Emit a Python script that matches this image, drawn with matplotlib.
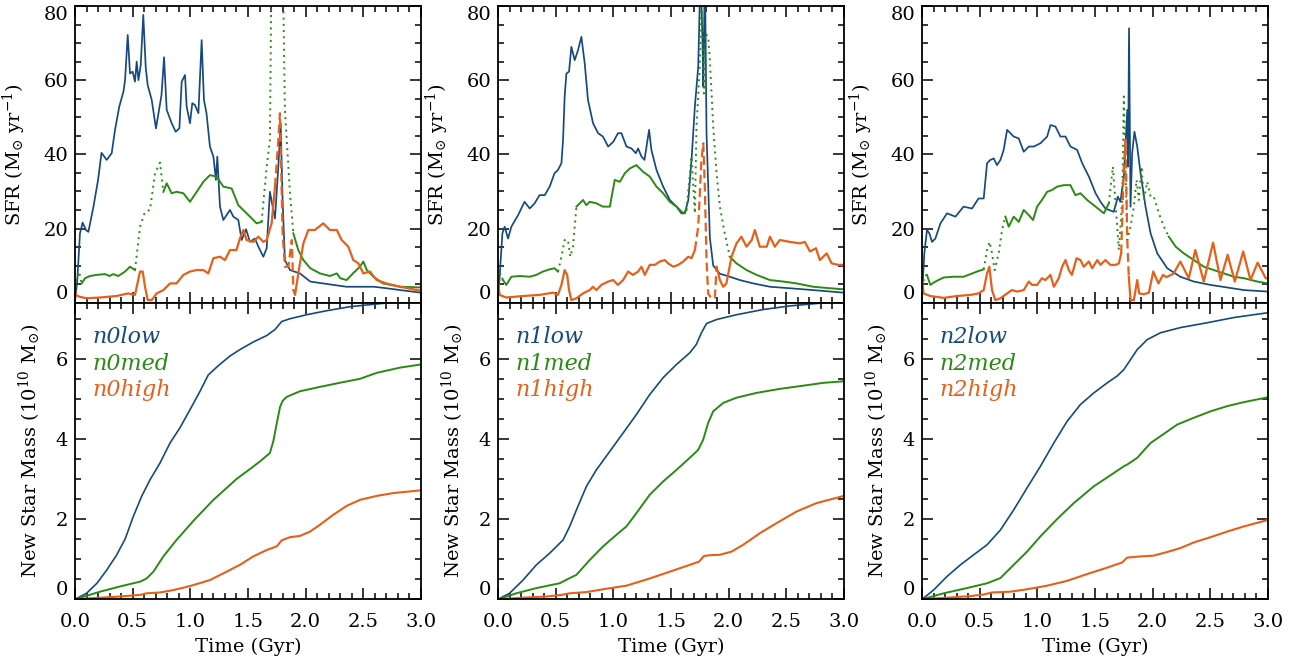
import numpy as np
import matplotlib
matplotlib.use('Agg')
import matplotlib.pyplot as plt
from matplotlib.ticker import MultipleLocator

plt.rcParams['font.family'] = ['DejaVu Serif']
plt.rcParams['mathtext.fontset'] = 'dejavuserif'

# ---- SFR (Msun/yr) vs time (Gyr) ----
n0low_t = [0, 0.02, 0.043, 0.066, 0.095, 0.116, 0.16, 0.2, 0.23, 0.275,
           0.318, 0.347, 0.384, 0.42, 0.434, 0.457, 0.477, 0.5, 0.52, 0.535,
           0.55, 0.57, 0.592, 0.613, 0.63, 0.665, 0.702, 0.731, 0.75, 0.772,
           0.795, 0.838, 0.873, 0.905, 0.925, 0.954, 0.968, 0.997, 1.017, 1.04,
           1.07, 1.084, 1.098, 1.118, 1.14, 1.17, 1.2, 1.222, 1.234, 1.257,
           1.286, 1.344, 1.373, 1.416, 1.445, 1.483, 1.517, 1.56, 1.59, 1.633,
           1.662, 1.69, 1.714, 1.734, 1.763, 1.783, 1.8, 1.82, 1.864, 1.95,
           2.04, 2.15, 2.24, 2.355, 2.47, 2.59, 2.7, 2.82, 3.0]
n0low_sfr = [0.3, 6.1, 18.7, 21.6, 19.6, 19.1, 25.9, 33.1, 40.4, 38.5,
             40.3, 46.6, 52.9, 56.9, 60.0, 72.2, 61.8, 62.3, 59.6, 65.0,
             60.0, 64.1, 77.6, 63.6, 58.7, 54.7, 47.0, 52.4, 56.0, 66.2,
             52.0, 48.4, 46.1, 47.0, 59.6, 61.4, 52.9, 48.4, 53.8, 53.3,
             51.1, 60.9, 70.8, 54.7, 51.1, 42.1, 39.4, 33.1, 39.4, 25.9,
             22.3, 25.0, 23.2, 22.3, 16.9, 19.8, 16.4, 17.3, 15.1, 12.4,
             14.7, 29.9, 25.9, 22.7, 36.7, 48.4, 27.7, 11.5, 8.8, 7.9,
             5.7, 5.2, 4.8, 4.3, 4.3, 4.3, 3.9, 3.4, 2.7]

n0med_t = [0, 0.014, 0.035, 0.058, 0.087, 0.13, 0.188, 0.26, 0.3, 0.33,
           0.376, 0.434, 0.477, 0.52, 0.564, 0.607, 0.65, 0.694, 0.737, 0.766,
           0.795, 0.838, 0.88, 0.94, 0.997, 1.055, 1.113, 1.17, 1.228, 1.286,
           1.358, 1.416, 1.488, 1.575, 1.618, 1.662, 1.69, 1.705, 1.8, 1.82,
           1.864, 1.893, 1.936, 1.98, 2.04, 2.124, 2.21, 2.27, 2.3, 2.355,
           2.41, 2.47, 2.5, 2.53, 2.587, 2.67, 2.82, 3.0]
n0med_sfr = [2.5, 7.0, 8.4, 5.2, 6.6, 7.2, 7.5, 7.7, 7.2, 7.7,
             7.2, 8.4, 9.7, 8.8, 20.5, 24.5, 25.0, 34.9, 37.8, 29.9,
             32.2, 29.5, 29.9, 29.5, 27.2, 29.9, 32.6, 34.4, 34.0, 31.3,
             30.8, 26.3, 24.1, 21.4, 21.8, 36.7, 43.9, 95, 95, 52.0,
             29.5, 18.7, 14.2, 11.5, 9.3, 7.9, 7.2, 7.9, 6.6, 6.1,
             7.9, 9.7, 11.1, 8.8, 7.0, 5.2, 4.3, 4.1]

n0high_t = [0, 0.01, 0.04, 0.1, 0.217, 0.36, 0.46, 0.52, 0.564, 0.587,
            0.607, 0.63, 0.665, 0.708, 0.766, 0.824, 0.88, 0.94, 0.997, 1.055,
            1.113, 1.156, 1.2, 1.257, 1.3, 1.344, 1.4, 1.43, 1.46, 1.488,
            1.546, 1.59, 1.633, 1.662, 1.705, 1.734, 1.763, 1.777, 1.8, 1.82,
            1.85, 1.88, 1.893, 1.908, 1.936, 1.98, 2.023, 2.08, 2.153, 2.21,
            2.27, 2.312, 2.37, 2.413, 2.457, 2.5, 2.558, 2.615, 2.7, 2.818, 3.0]
n0high_sfr = [3.5, 2.0, 1.6, 1.2, 1.4, 1.8, 2.5, 2.1, 8.4, 8.4,
              4.3, 0.7, 0.7, 2.5, 3.4, 5.2, 5.2, 7.5, 8.4, 8.8,
              8.8, 7.9, 12.0, 12.4, 11.5, 14.2, 14.2, 17.3, 19.6, 16.9,
              16.4, 17.8, 16.4, 16.9, 21.4, 31.3, 43.9, 51.1, 18.7, 9.7,
              9.7, 16.9, 3.4, 2.1, 7.9, 16.0, 19.6, 19.6, 21.4, 19.6,
              19.6, 16.9, 15.1, 11.5, 10.6, 7.9, 8.4, 6.1, 5.2, 4.3, 3.2]

n1low_t = [0, 0.014, 0.038, 0.058, 0.087, 0.116, 0.174, 0.23, 0.275, 0.318,
           0.36, 0.405, 0.448, 0.49, 0.52, 0.55, 0.564, 0.578, 0.593, 0.616,
           0.636, 0.665, 0.694, 0.723, 0.752, 0.78, 0.824, 0.868, 0.91, 0.955,
           1.0, 1.04, 1.07, 1.114, 1.157, 1.195, 1.215, 1.244, 1.27, 1.31,
           1.33, 1.374, 1.432, 1.49, 1.548, 1.59, 1.62, 1.65, 1.678, 1.707,
           1.736, 1.756, 1.773, 1.78, 1.794, 1.808, 1.837, 1.866, 1.924, 2.01,
           2.097, 2.213, 2.358, 2.53, 2.733, 3.0]
n1low_sfr = [1.2, 7.0, 18.7, 20.5, 17.3, 20.5, 23.6, 27.2, 25.4, 26.8,
             29.0, 29.0, 31.3, 34.9, 35.8, 37.6, 43.9, 55.6, 61.8, 62.3,
             69.0, 65.4, 68.1, 71.7, 64.5, 54.7, 48.4, 45.7, 44.8, 42.1,
             43.4, 45.7, 45.7, 42.1, 41.6, 40.3, 41.6, 39.4, 38.5, 46.6,
             41.2, 35.8, 31.3, 27.7, 25.9, 24.1, 24.1, 27.7, 38.5, 52.9,
             63.6, 90, 70.8, 58.2, 90, 45.7, 17.5, 10.0, 7.8, 7.0,
             6.1, 5.2, 4.3, 3.9, 3.4, 2.7]

n1med_t = [0, 0.02, 0.043, 0.072, 0.116, 0.188, 0.275, 0.333, 0.39, 0.448,
           0.49, 0.52, 0.55, 0.578, 0.607, 0.627, 0.65, 0.68, 0.737, 0.766,
           0.795, 0.853, 0.91, 0.97, 1.012, 1.056, 1.1, 1.143, 1.2, 1.258,
           1.316, 1.374, 1.432, 1.49, 1.548, 1.606, 1.634, 1.678, 1.707, 1.721,
           1.75, 1.764, 1.785, 1.8, 1.822, 1.837, 1.866, 1.895, 1.924, 1.967,
           2.01, 2.068, 2.155, 2.242, 2.358, 2.473, 2.589, 2.733, 2.878, 3.0]
n1med_sfr = [2.5, 7.9, 6.1, 4.8, 7.0, 7.2, 7.0, 7.5, 8.4, 9.0,
             9.3, 8.4, 12.4, 16.9, 16.9, 12.4, 15.1, 25.9, 27.7, 26.3,
             27.2, 26.8, 25.9, 25.9, 33.1, 32.6, 34.9, 36.2, 37.1, 35.3,
             34.0, 31.3, 29.5, 27.2, 25.9, 24.1, 25.0, 39.4, 24.1, 47.5,
             63.6, 84.0, 56.4, 72.6, 71.7, 65.4, 47.5, 34.9, 25.9, 18.5,
             12.4, 10.6, 8.8, 7.5, 6.1, 5.7, 5.2, 4.3, 3.9, 3.6]

n1high_t = [0, 0.014, 0.072, 0.217, 0.36, 0.477, 0.52, 0.55, 0.578, 0.6,
            0.616, 0.636, 0.68, 0.737, 0.795, 0.824, 0.853, 0.897, 0.955, 1.0,
            1.04, 1.085, 1.128, 1.17, 1.215, 1.244, 1.273, 1.316, 1.36, 1.403,
            1.446, 1.475, 1.52, 1.563, 1.606, 1.65, 1.678, 1.707, 1.736, 1.764,
            1.78, 1.793, 1.808, 1.822, 1.85, 1.88, 1.895, 1.924, 1.953, 1.98,
            2.025, 2.068, 2.11, 2.155, 2.2, 2.227, 2.27, 2.33, 2.358, 2.4,
            2.444, 2.53, 2.618, 2.66, 2.705, 2.757, 2.79, 2.85, 2.893, 2.95, 3.0]
n1high_sfr = [5.7, 2.1, 1.4, 1.8, 2.1, 2.7, 2.1, 4.8, 8.8, 7.5,
              3.4, 0.7, 1.2, 2.5, 3.4, 4.3, 3.4, 4.8, 5.7, 6.1,
              4.8, 6.1, 8.4, 7.5, 8.4, 9.7, 7.5, 10.2, 10.2, 11.1,
              11.5, 10.6, 9.7, 10.2, 11.1, 12.4, 12.0, 14.2, 20.5, 38.5,
              43.0, 31.3, 11.5, 2.5, 1.2, 1.2, 9.7, 6.1, 4.3, 5.2,
              12.4, 16.0, 17.8, 15.1, 16.9, 19.6, 15.1, 15.1, 17.8, 15.1,
              16.9, 16.4, 16.0, 16.4, 13.8, 14.7, 11.5, 13.3, 10.6, 10.2, 10.2]

n2low_t = [0, 0.02, 0.043, 0.064, 0.087, 0.116, 0.16, 0.217, 0.29, 0.36,
           0.434, 0.49, 0.535, 0.564, 0.593, 0.622, 0.65, 0.68, 0.708, 0.738,
           0.767, 0.795, 0.839, 0.882, 0.926, 0.97, 1.027, 1.085, 1.114, 1.157,
           1.2, 1.244, 1.287, 1.345, 1.389, 1.447, 1.505, 1.548, 1.59, 1.663,
           1.698, 1.72, 1.75, 1.78, 1.787, 1.795, 1.808, 1.822, 1.842, 1.866,
           1.895, 1.938, 1.982, 2.04, 2.126, 2.24, 2.357, 2.5, 2.647, 2.792, 3.0]
n2low_sfr = [1.6, 13.3, 19.6, 18.7, 16.4, 17.3, 21.4, 24.1, 23.2, 25.9,
             25.4, 28.1, 28.1, 37.6, 38.5, 38.9, 37.1, 38.5, 41.2, 46.6,
             45.7, 44.8, 44.3, 40.7, 42.1, 42.1, 43.0, 44.8, 47.9, 47.5,
             44.8, 44.8, 42.1, 41.2, 37.6, 34.0, 29.5, 27.2, 25.4, 24.5,
             28.6, 27.2, 34.0, 52.0, 36.7, 74.0, 25.9, 40.3, 46.1, 42.1,
             34.9, 25.9, 18.7, 13.3, 9.3, 7.0, 5.7, 4.8, 4.1, 3.4, 3.0]

n2med_t = [0, 0.02, 0.043, 0.072, 0.116, 0.188, 0.275, 0.36, 0.42, 0.477,
           0.535, 0.564, 0.587, 0.607, 0.63, 0.665, 0.694, 0.723, 0.752, 0.795,
           0.839, 0.882, 0.926, 0.963, 0.998, 1.04, 1.085, 1.128, 1.172, 1.23,
           1.287, 1.33, 1.374, 1.432, 1.505, 1.577, 1.62, 1.655, 1.678, 1.707,
           1.736, 1.75, 1.765, 1.78, 1.808, 1.837, 1.86, 1.88, 1.904, 1.924,
           1.953, 1.982, 2.01, 2.054, 2.097, 2.14, 2.2, 2.27, 2.357, 2.444,
           2.53, 2.618, 2.705, 2.792, 2.908, 3.0]
n2med_sfr = [2.5, 7.2, 7.5, 4.8, 5.7, 6.8, 7.0, 7.0, 7.7, 8.4,
             9.0, 14.2, 16.4, 13.3, 8.8, 13.3, 19.6, 23.2, 20.5, 23.2,
             21.8, 25.0, 23.6, 22.3, 25.9, 27.7, 29.9, 30.4, 31.3, 31.7,
             31.7, 29.0, 29.5, 27.7, 25.9, 24.1, 26.8, 36.7, 26.8, 14.2,
             27.7, 55.6, 34.9, 16.9, 20.5, 25.9, 33.1, 27.7, 36.7, 27.7,
             32.6, 28.6, 28.6, 24.1, 20.5, 17.8, 15.1, 13.3, 11.5, 9.7,
             8.8, 7.9, 7.0, 6.6, 5.7, 5.2]

n2high_t = [0, 0.014, 0.072, 0.188, 0.304, 0.42, 0.49, 0.535, 0.564, 0.584,
            0.607, 0.636, 0.68, 0.738, 0.78, 0.824, 0.882, 0.926, 0.955, 0.998,
            1.04, 1.07, 1.114, 1.143, 1.186, 1.215, 1.244, 1.273, 1.3, 1.34,
            1.374, 1.403, 1.447, 1.476, 1.52, 1.548, 1.59, 1.634, 1.678, 1.707,
            1.727, 1.75, 1.765, 1.78, 1.793, 1.808, 1.837, 1.866, 1.883, 1.924,
            1.967, 2.005, 2.05, 2.09, 2.12, 2.18, 2.24, 2.313, 2.37, 2.443,
            2.524, 2.588, 2.65, 2.712, 2.785, 2.848, 2.91, 2.98, 3.0]
n2high_sfr = [5.7, 2.5, 1.8, 1.3, 1.8, 2.1, 2.5, 3.4, 7.9, 9.7,
              3.4, 0.7, 1.2, 2.5, 3.4, 3.0, 3.4, 5.7, 4.8, 4.8,
              6.6, 6.1, 7.5, 4.3, 6.6, 9.7, 11.5, 8.8, 7.5, 12.0,
              11.5, 9.7, 11.1, 9.3, 11.5, 10.2, 11.5, 10.2, 10.2, 10.6,
              13.3, 36.7, 43.9, 16.9, 7.0, 0.7, 0.7, 6.1, 2.5, 2.3,
              2.7, 8.4, 5.2, 7.5, 6.9, 7.8, 11.1, 6.6, 14.2, 5.7,
              16.2, 6.1, 12.9, 5.7, 13.8, 6.1, 10.8, 6.6, 6.6]

# ---- cumulative new star mass (1e10 Msun) ----
n0low_mt = [0, 0.1, 0.19, 0.275, 0.36, 0.434, 0.506, 0.578, 0.65, 0.737,
            0.824, 0.91, 0.997, 1.084, 1.156, 1.243, 1.344, 1.43, 1.546, 1.662,
            1.734, 1.792, 1.864, 2.009, 2.182, 2.384, 2.587, 2.73, 3.0]
n0low_mass = [0, 0.15, 0.4, 0.73, 1.1, 1.5, 2.07, 2.57, 2.98, 3.4,
              3.9, 4.28, 4.73, 5.19, 5.6, 5.83, 6.07, 6.23, 6.42, 6.58,
              6.73, 6.93, 7.0, 7.1, 7.2, 7.3, 7.36, 7.4, 7.5]
n0med_mt = [0, 0.217, 0.39, 0.564, 0.621, 0.68, 0.766, 0.88, 1.04, 1.2,
            1.4, 1.517, 1.604, 1.69, 1.72, 1.75, 1.778, 1.8, 1.835, 1.95,
            2.124, 2.327, 2.47, 2.616, 2.818, 3.0]
n0med_mass = [0, 0.19, 0.32, 0.44, 0.52, 0.69, 1.07, 1.48, 2.0, 2.48,
              3.0, 3.25, 3.44, 3.65, 3.95, 4.4, 4.8, 4.95, 5.05, 5.19,
              5.3, 5.42, 5.5, 5.65, 5.78, 5.86]
n0high_mt = [0, 0.217, 0.39, 0.564, 0.621, 0.737, 0.853, 0.997, 1.17, 1.315,
             1.43, 1.546, 1.662, 1.749, 1.792, 1.864, 1.95, 2.038, 2.124, 2.24,
             2.355, 2.47, 2.616, 2.76, 3.0]
n0high_mass = [0, 0.04, 0.07, 0.11, 0.15, 0.17, 0.23, 0.33, 0.48, 0.69,
               0.86, 1.07, 1.23, 1.32, 1.47, 1.55, 1.58, 1.69, 1.86, 2.11,
               2.33, 2.48, 2.58, 2.65, 2.72]

n1low_mt = [0, 0.1, 0.217, 0.333, 0.448, 0.564, 0.622, 0.68, 0.767, 0.853,
            0.969, 1.085, 1.2, 1.316, 1.432, 1.548, 1.663, 1.72, 1.764, 1.808,
            1.895, 2.068, 2.3, 2.531, 2.762, 3.0]
n1low_mass = [0, 0.15, 0.48, 0.86, 1.15, 1.48, 1.82, 2.23, 2.82, 3.23,
              3.69, 4.15, 4.61, 5.11, 5.53, 5.86, 6.15, 6.36, 6.65, 6.88,
              6.98, 7.1, 7.23, 7.32, 7.38, 7.44]
n1med_mt = [0, 0.159, 0.333, 0.535, 0.622, 0.68, 0.795, 0.911, 1.027, 1.114,
            1.2, 1.316, 1.432, 1.548, 1.663, 1.736, 1.779, 1.822, 1.866, 1.953,
            2.068, 2.242, 2.444, 2.647, 2.82, 3.0]
n1med_mass = [0, 0.15, 0.28, 0.4, 0.53, 0.61, 0.98, 1.32, 1.61, 1.82,
              2.15, 2.61, 2.94, 3.23, 3.53, 3.73, 3.98, 4.4, 4.69, 4.9,
              5.03, 5.15, 5.25, 5.33, 5.4, 5.44]
n1high_mt = [0, 0.217, 0.42, 0.55, 0.622, 0.767, 0.911, 1.114, 1.316, 1.49,
             1.663, 1.744, 1.785, 1.837, 1.924, 2.025, 2.126, 2.271, 2.415, 2.589,
             2.762, 3.0]
n1high_mass = [0, 0.04, 0.07, 0.11, 0.15, 0.18, 0.25, 0.34, 0.52, 0.69,
               0.86, 0.94, 1.08, 1.1, 1.11, 1.19, 1.36, 1.65, 1.9, 2.19,
               2.4, 2.58]

n2low_mt = [0, 0.1, 0.217, 0.333, 0.448, 0.564, 0.68, 0.795, 0.911, 1.027,
            1.143, 1.258, 1.374, 1.49, 1.606, 1.692, 1.75, 1.808, 1.866, 1.953,
            2.068, 2.242, 2.473, 2.705, 3.0]
n2low_mass = [0, 0.23, 0.57, 0.86, 1.11, 1.36, 1.73, 2.23, 2.78, 3.32,
              3.9, 4.44, 4.86, 5.15, 5.4, 5.57, 5.73, 5.98, 6.23, 6.48,
              6.65, 6.78, 6.9, 7.03, 7.15]
n2med_mt = [0, 0.188, 0.39, 0.564, 0.68, 0.795, 0.911, 1.027, 1.171, 1.316,
            1.49, 1.663, 1.75, 1.779, 1.866, 1.982, 2.068, 2.213, 2.358, 2.502,
            2.647, 2.792, 3.0]
n2med_mass = [0, 0.15, 0.28, 0.4, 0.53, 0.86, 1.19, 1.57, 2.0, 2.4,
              2.82, 3.15, 3.32, 3.36, 3.53, 3.9, 4.07, 4.36, 4.53, 4.69,
              4.82, 4.92, 5.04]
n2high_mt = [0, 0.217, 0.42, 0.535, 0.607, 0.767, 0.911, 1.085, 1.258, 1.432,
             1.606, 1.736, 1.779, 1.895, 2.01, 2.126, 2.242, 2.358, 2.502, 2.647,
             2.792, 3.0]
n2high_mass = [0, 0.04, 0.08, 0.12, 0.17, 0.19, 0.25, 0.34, 0.46, 0.63,
               0.79, 0.92, 1.04, 1.07, 1.09, 1.18, 1.28, 1.42, 1.55, 1.69,
               1.82, 1.98]

BLUE = '#174a7c'
GREEN = '#2a8b14'
ORANGE = '#e5601a'

# where the original curves look dotted (green) / dashed (orange)
green_dotted = [[(0.0, 0.05), (0.52, 0.77), (1.62, 1.89)],
                [(0.0, 0.05), (0.53, 0.69), (1.63, 1.99)],
                [(0.0, 0.05), (0.54, 0.72), (1.60, 2.15)]]
orange_dashed = [[(1.72, 1.90)], [(1.72, 1.89)], [(1.72, 1.80)]]

runs = [
    ('n0', (n0low_t, n0low_sfr), (n0med_t, n0med_sfr), (n0high_t, n0high_sfr),
     (n0low_mt, n0low_mass), (n0med_mt, n0med_mass), (n0high_mt, n0high_mass)),
    ('n1', (n1low_t, n1low_sfr), (n1med_t, n1med_sfr), (n1high_t, n1high_sfr),
     (n1low_mt, n1low_mass), (n1med_mt, n1med_mass), (n1high_mt, n1high_mass)),
    ('n2', (n2low_t, n2low_sfr), (n2med_t, n2med_sfr), (n2high_t, n2high_sfr),
     (n2low_mt, n2low_mass), (n2med_mt, n2med_mass), (n2high_mt, n2high_mass)),
]


def styled_line(ax, t, y, color, ranges, ls, lw):
    t = np.asarray(t, float)
    y = np.asarray(y, float)
    mid = 0.5 * (t[1:] + t[:-1])
    special = np.zeros(len(mid), bool)
    for a, b in ranges:
        special |= (mid >= a) & (mid <= b)
    solid_pts = np.zeros(len(t), bool)
    spec_pts = np.zeros(len(t), bool)
    solid_pts[:-1] |= ~special
    solid_pts[1:] |= ~special
    spec_pts[:-1] |= special
    spec_pts[1:] |= special
    ax.plot(t, np.where(solid_pts, y, np.nan), color=color, lw=lw,
            solid_joinstyle='round')
    if spec_pts.any():
        ys = np.where(spec_pts, y, np.nan)
        ax.plot(t, ys, color=color, lw=lw, linestyle=ls)


def style_axis(ax):
    for s in ax.spines.values():
        s.set_linewidth(1.3)
    ax.tick_params(which='both', direction='in', top=True, right=True,
                   labelsize=14, width=1.1)
    ax.tick_params(which='major', length=8)
    ax.tick_params(which='minor', length=4)
    ax.tick_params(axis='y', pad=5)
    ax.tick_params(axis='x', pad=10)
    ax.set_xlim(0, 3)
    ax.xaxis.set_major_locator(MultipleLocator(0.5))
    ax.xaxis.set_minor_locator(MultipleLocator(0.1))


fig = plt.figure(figsize=(12.92, 6.6), dpi=100)
W, H = 1292.0, 660.0
lefts = [75, 498, 922]

for i, run in enumerate(runs):
    name, low, med, high, mlow, mmed, mhigh = run
    x0 = lefts[i] / W
    w = 346 / W
    ax1 = fig.add_axes([x0, 1 - 302.7 / H, w, (302.7 - 6) / H])
    ax2 = fig.add_axes([x0, 1 - 599.3 / H, w, 296.6 / H])

    styled_line(ax1, low[0], low[1], BLUE, [], '-', 1.25)
    styled_line(ax1, med[0], med[1], GREEN, green_dotted[i], (0, (1, 2.2)), 1.4)
    styled_line(ax1, high[0], high[1], ORANGE, orange_dashed[i], (0, (4, 2)), 1.6)

    ax2.plot(mlow[0], mlow[1], color=BLUE, lw=1.2)
    ax2.plot(mmed[0], mmed[1], color=GREEN, lw=1.4)
    ax2.plot(mhigh[0], mhigh[1], color=ORANGE, lw=1.5)

    style_axis(ax1)
    style_axis(ax2)

    ax1.set_ylim(0, 80)
    ax1.set_yticks([0, 20, 40, 60, 80])
    ax1.yaxis.set_minor_locator(MultipleLocator(5))
    ax1.tick_params(axis='x', labelbottom=False)
    ax1.set_ylabel(r'SFR (M$_{\odot}$ yr$^{-1}$)', fontsize=14)
    ax1.yaxis.set_label_coords(-0.135, 0.5)

    ax2.set_ylim(0, 7.4)
    ax2.set_yticks([0, 2, 4, 6])
    ax2.yaxis.set_minor_locator(MultipleLocator(0.5))
    ax2.set_xticks([0, 0.5, 1.0, 1.5, 2.0, 2.5, 3.0])
    ax2.set_xticklabels(['0.0', '0.5', '1.0', '1.5', '2.0', '2.5', '3.0'])
    ax2.set_ylabel(r'New Star Mass (10$^{10}$ M$_{\odot}$)', fontsize=14)
    ax2.yaxis.set_label_coords(-0.093, 0.5)
    ax2.set_xlabel('Time (Gyr)', fontsize=14)
    ax2.xaxis.set_label_coords(0.5, -0.128)

    # end labels kept inside the frame
    t1 = ax1.yaxis.get_major_ticks()
    t1[0].label1.set_va('bottom')
    t1[-1].label1.set_va('top')
    t2 = ax2.yaxis.get_major_ticks()
    t2[0].label1.set_va('bottom')

    for k, (lab, col) in enumerate([('low', BLUE), ('med', GREEN), ('high', ORANGE)]):
        ax2.text(0.05, 0.884 - 0.089 * k, name + lab, color=col, fontsize=16,
                 style='italic', transform=ax2.transAxes, va='center', ha='left')

fig.savefig('out.png', dpi=100)
